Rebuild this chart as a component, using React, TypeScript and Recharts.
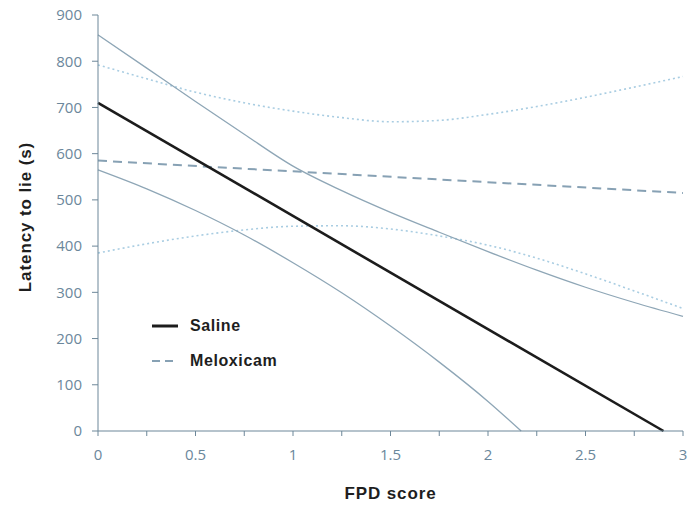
import React from 'react';
import { LineChart, Line, XAxis, YAxis, Legend } from 'recharts';

// x positions (FPD score) used by the confidence band curves
const xGrid = [0, 0.25, 0.5, 0.75, 1, 1.25, 1.5, 1.75, 2, 2.25, 2.5, 2.75, 3];

// Saline regression line and its 95% band
const salineFitX = [0, 2.9];
const salineFit = [710, 0];
const salineUpper = [857, 785, 713, 642, 573, 520, 473, 430, 388, 348, 311, 278, 248];
const salineLowerX = [0, 0.25, 0.5, 0.75, 1, 1.25, 1.5, 1.75, 2, 2.17];
const salineLower = [565, 524, 477, 424, 364, 299, 227, 149, 64, 0];

// Meloxicam regression line and its 95% band
const meloxFitX = [0, 3];
const meloxFit = [585, 515];
const meloxUpper = [792, 762, 733, 710, 692, 678, 669, 672, 685, 702, 722, 744, 767];
const meloxLower = [385, 405, 422, 435, 443, 444, 437, 422, 402, 374, 340, 303, 265];

const yTicks = [0, 100, 200, 300, 400, 500, 600, 700, 800, 900];
const xTicks = [0, 0.25, 0.5, 0.75, 1, 1.25, 1.5, 1.75, 2, 2.25, 2.5, 2.75, 3];
const xLabels = ['0', '', '0.5', '', '1', '', '1.5', '', '2', '', '2.5', '', '3'];

const legendItems = [
  { name: 'Saline', color: '#1c1c1c', width: 3, dash: undefined },
  { name: 'Meloxicam', color: '#87a1b4', width: 2, dash: '8 5' },
];

const toPoints = (xs: number[], ys: number[]) => xs.map((x, i) => ({ x, y: ys[i] }));

const axisColor = '#6d8799';
const tickStyle = { fill: '#6b879b', fontSize: 15, fontFamily: 'Open Sans' };
const titleStyle = {
  fill: '#1e1e1e',
  fontSize: 17,
  fontWeight: 700,
  fontFamily: 'Liberation Sans, Arial, sans-serif',
  letterSpacing: 0.9,
};

const renderLegend = () => (
  <div style={{ fontFamily: 'Liberation Sans, Arial, sans-serif' }}>
    {legendItems.map((it) => (
      <div key={it.name} style={{ display: 'flex', alignItems: 'center', height: 35 }}>
        <svg width={40} height={10}>
          <line
            x1={2}
            y1={5}
            x2={28}
            y2={5}
            stroke={it.color}
            strokeWidth={it.width}
            strokeDasharray={it.dash}
          />
        </svg>
        <span style={{ fontSize: 16, fontWeight: 700, color: '#1e1e1e', letterSpacing: 0.6 }}>
          {it.name}
        </span>
      </div>
    ))}
  </div>
);

export default function App() {
  return (
    <div style={{ position: 'absolute', left: 0, top: 0, background: '#fff' }}>
      <LineChart width={689} height={507} margin={{ top: 15, right: 6, bottom: 0, left: 0 }}>
        <XAxis
          type="number"
          dataKey="x"
          domain={[0, 3]}
          ticks={xTicks}
          tickFormatter={(v: number) => xLabels[xTicks.indexOf(v)] ?? ''}
          height={76}
          stroke={axisColor}
          tick={tickStyle}
          tickSize={5}
          tickMargin={13}
          interval={0}
          allowDuplicatedCategory={false}
          label={{ value: 'FPD score', position: 'insideBottom', offset: 8, style: titleStyle }}
        />
        <YAxis
          type="number"
          domain={[0, 900]}
          ticks={yTicks}
          width={98}
          stroke={axisColor}
          tick={tickStyle}
          tickSize={6}
          tickMargin={10}
          interval={0}
          label={{
            value: 'Latency to lie (s)',
            angle: -90,
            position: 'insideLeft',
            offset: 25,
            dy: -6,
            style: { ...titleStyle, textAnchor: 'middle' },
          }}
        />
        <Legend
          content={renderLegend}
          layout="horizontal"
          align="center"
          verticalAlign="middle"
          wrapperStyle={{ left: 150, top: 308, width: 170 }}
        />
        <Line
          data={toPoints(xGrid, meloxUpper)}
          dataKey="y"
          type="monotone"
          stroke="#a9cde2"
          strokeWidth={1.6}
          strokeDasharray="2 3"
          dot={false}
          legendType="none"
          isAnimationActive={false}
        />
        <Line
          data={toPoints(xGrid, meloxLower)}
          dataKey="y"
          type="monotone"
          stroke="#a9cde2"
          strokeWidth={1.6}
          strokeDasharray="2 3"
          dot={false}
          legendType="none"
          isAnimationActive={false}
        />
        <Line
          data={toPoints(meloxFitX, meloxFit)}
          dataKey="y"
          type="linear"
          stroke="#87a1b4"
          strokeWidth={2}
          strokeDasharray="9 6"
          dot={false}
          isAnimationActive={false}
        />
        <Line
          data={toPoints(xGrid, salineUpper)}
          dataKey="y"
          type="monotone"
          stroke="#8ea6b6"
          strokeWidth={1.3}
          dot={false}
          legendType="none"
          isAnimationActive={false}
        />
        <Line
          data={toPoints(salineLowerX, salineLower)}
          dataKey="y"
          type="monotone"
          stroke="#8ea6b6"
          strokeWidth={1.3}
          dot={false}
          legendType="none"
          isAnimationActive={false}
        />
        <Line
          data={toPoints(salineFitX, salineFit)}
          dataKey="y"
          type="linear"
          stroke="#1c1c1c"
          strokeWidth={2.6}
          dot={false}
          isAnimationActive={false}
        />
      </LineChart>
    </div>
  );
}
